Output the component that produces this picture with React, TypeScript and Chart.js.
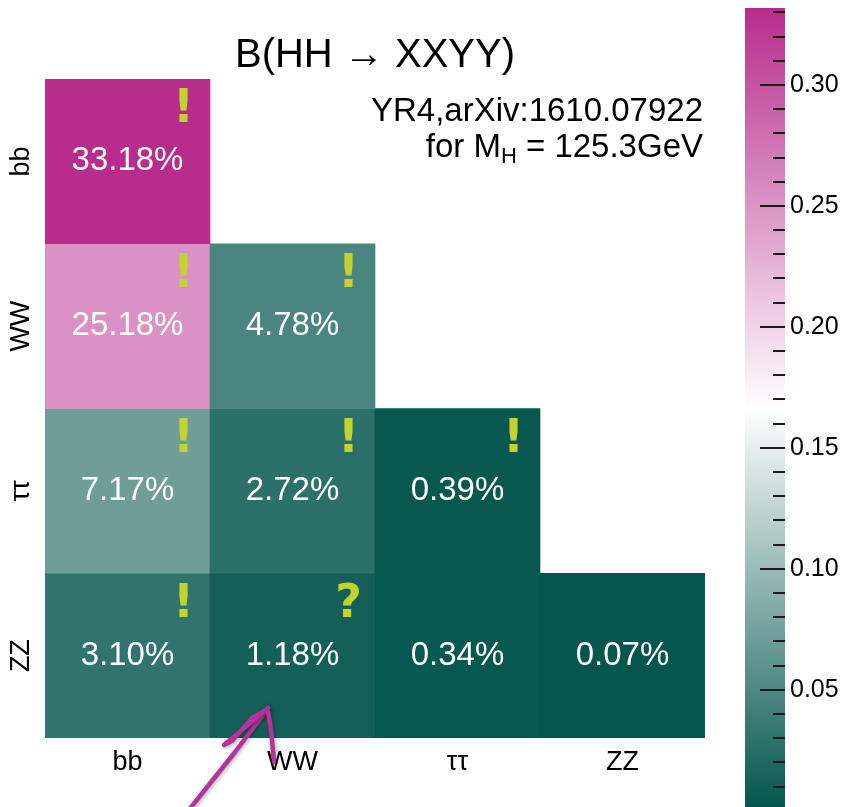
import React, { useEffect, useRef } from 'react';
import { Chart, registerables } from 'chart.js';

Chart.register(...registerables);

const FONT = '"Liberation Sans", Arial, Helvetica, sans-serif';
const MARK_FONT = '"DejaVu Sans", "Liberation Sans", Arial, sans-serif';

// Decay channels of each Higgs boson
const particles = ['bb', 'WW', 'ττ', 'ZZ'];

// Branching ratios (percent) of HH -> XXYY, one row per channel, top to bottom
const rowBB = [33.18];
const rowWW = [25.18, 4.78];
const rowTauTau = [7.17, 2.72, 0.39];
const rowZZ = [3.1, 1.18, 0.34, 0.07];

// Markers shown in the corner of each cell
const flagsBB = ['!'];
const flagsWW = ['!', '!'];
const flagsTauTau = ['!', '!', '!'];
const flagsZZ = ['!', '?', '', ''];

// Colour scale limits (fraction) and labelled colour-bar ticks
const colorMin = 0.0007;
const colorMax = 0.3318;
const colorbarTicks = [0.05, 0.1, 0.15, 0.2, 0.25, 0.3];

// Hand-drawn pointer, in (column, row) data units
const arrowShaft = [[0.348, -0.467], [0.652, -0.085], [0.852, 0.182]];
const arrowBarb = [[0.852, 0.182], [0.585, -0.042], [0.633, -0.018], [0.755, 0.121], [0.839, 0.17]];
const arrowTail = [[0.852, 0.158], [0.87, 0.049], [0.888, -0.146]];

const rows = [rowBB, rowWW, rowTauTau, rowZZ];
const flags = [flagsBB, flagsWW, flagsTauTau, flagsZZ];

const LOW = [3, 85, 77];
const MID = [255, 255, 255];
const HIGH = [183, 44, 140];

function colormap(v: number): string {
  const t = Math.min(1, Math.max(0, (v - colorMin) / (colorMax - colorMin)));
  let a = LOW, b = MID, f = t * 2;
  if (t > 0.5) { a = MID; b = HIGH; f = (t - 0.5) * 2; }
  const c = a.map((x, i) => Math.round(x + (b[i] - x) * f));
  return `rgb(${c[0]},${c[1]},${c[2]})`;
}

const cellPlugin = {
  id: 'cellText',
  afterDatasetsDraw(chart: any) {
    const { ctx, chartArea, scales } = chart;
    const xs = scales.x, ys = scales.y;
    ctx.save();
    rows.forEach((vals, i) => {
      vals.forEach((v, j) => {
        const cx = xs.getPixelForValue(j);
        const cy = ys.getPixelForValue(3.5 - i);
        ctx.fillStyle = '#ffffff';
        ctx.font = `33px ${FONT}`;
        ctx.textAlign = 'center';
        ctx.textBaseline = 'middle';
        ctx.fillText(`${v.toFixed(2)}%`, cx, cy);
        const f = flags[i][j];
        if (f) {
          ctx.fillStyle = '#c2d22e';
          ctx.font = `bold 46px ${MARK_FONT}`;
          ctx.fillText(f, xs.getPixelForValue(j + 0.34), ys.getPixelForValue(3.5 - i + 0.31));
        }
      });
    });

    // row labels, rotated
    ctx.fillStyle = '#000';
    ctx.font = `27px ${FONT}`;
    particles.forEach((p, i) => {
      ctx.save();
      ctx.translate(chartArea.left - 23, ys.getPixelForValue(3.5 - i));
      ctx.rotate(-Math.PI / 2);
      ctx.textAlign = 'center';
      ctx.textBaseline = 'middle';
      ctx.fillText(p, 0, 0);
      ctx.restore();
    });

    // title
    ctx.textAlign = 'center';
    ctx.textBaseline = 'middle';
    ctx.font = `40px ${FONT}`;
    ctx.fillText('B(HH \u2192 XXYY)', (chartArea.left + chartArea.right) / 2, chartArea.top - 23);

    // reference note
    const right = chartArea.right - 2;
    ctx.textAlign = 'right';
    ctx.textBaseline = 'alphabetic';
    ctx.font = `33px ${FONT}`;
    ctx.fillText('YR4,arXiv:1610.07922', right, chartArea.top + 42);
    const base2 = chartArea.top + 78;
    const tail = ' = 125.3GeV';
    const head = 'for M';
    const sub = 'H';
    ctx.font = `33px ${FONT}`;
    const wTail = ctx.measureText(tail).width;
    const wHead = ctx.measureText(head).width;
    ctx.font = `22px ${FONT}`;
    const wSub = ctx.measureText(sub).width;
    let x = right - wTail - wSub - wHead;
    ctx.textAlign = 'left';
    ctx.font = `33px ${FONT}`;
    ctx.fillText(head, x, base2);
    x += wHead;
    ctx.font = `22px ${FONT}`;
    ctx.fillText(sub, x, base2 + 6);
    x += wSub;
    ctx.font = `33px ${FONT}`;
    ctx.fillText(tail, x, base2);
    ctx.restore();
  },
  afterDraw(chart: any) {
    const { ctx, scales } = chart;
    const xs = scales.x, ys = scales.y;
    const stroke = (pts: number[][]) => {
      ctx.beginPath();
      pts.forEach(([a, b], k) => {
        const px = xs.getPixelForValue(a);
        const py = ys.getPixelForValue(b);
        if (k === 0) ctx.moveTo(px, py); else ctx.lineTo(px, py);
      });
      ctx.stroke();
    };
    ctx.save();
    ctx.strokeStyle = '#b5349c';
    ctx.lineWidth = 4.5;
    ctx.lineCap = 'round';
    ctx.lineJoin = 'round';
    ctx.shadowColor = 'rgba(0,0,0,0.35)';
    ctx.shadowBlur = 4;
    ctx.shadowOffsetX = 1;
    ctx.shadowOffsetY = 1;
    stroke(arrowShaft);
    stroke(arrowBarb);
    stroke(arrowTail);
    ctx.restore();
  },
};

const colorbarPlugin = {
  id: 'colorbarFill',
  beforeDatasetsDraw(chart: any) {
    const { ctx, chartArea, scales } = chart;
    const ys = scales.y;
    const y0 = ys.getPixelForValue(colorMin);
    const y1 = ys.getPixelForValue(colorMax);
    const g = ctx.createLinearGradient(0, y0, 0, y1);
    g.addColorStop(0, colormap(colorMin));
    g.addColorStop(0.5, colormap((colorMin + colorMax) / 2));
    g.addColorStop(1, colormap(colorMax));
    ctx.save();
    ctx.fillStyle = g;
    ctx.fillRect(chartArea.left, y1, chartArea.right - chartArea.left, y0 - y1);
    ctx.strokeStyle = '#1a1a1a';
    ctx.lineWidth = 2;
    const first = Math.ceil(colorMin * 100);
    const last = Math.floor(colorMax * 100);
    for (let k = first; k <= last; k++) {
      const py = Math.round(ys.getPixelForValue(k / 100));
      const len = k % 5 === 0 ? 25 : 12;
      ctx.beginPath();
      ctx.moveTo(chartArea.right - len, py);
      ctx.lineTo(chartArea.right, py);
      ctx.stroke();
    }
    ctx.restore();
  },
};

export default function App() {
  const mainRef = useRef<HTMLCanvasElement>(null);
  const barRef = useRef<HTMLCanvasElement>(null);

  useEffect(() => {
    const datasets = rows.map((vals, i) => ({
      data: vals.map(() => [3 - i, 4 - i]),
      backgroundColor: vals.map((v) => colormap(v / 100)),
      borderWidth: 0,
      barPercentage: 1,
      categoryPercentage: 1,
      grouped: false,
    }));

    const main = new Chart(mainRef.current as HTMLCanvasElement, {
      type: 'bar',
      data: { labels: particles, datasets: datasets as any },
      options: {
        responsive: false,
        animation: false,
        devicePixelRatio: 1,
        layout: { padding: { left: 45, top: 79, right: 40, bottom: 0 } },
        plugins: { legend: { display: false }, tooltip: { enabled: false }, title: { display: false } },
        scales: {
          x: {
            type: 'category',
            offset: true,
            grid: { display: false, drawTicks: false },
            border: { display: false },
            ticks: { color: '#000', font: { family: FONT, size: 27 }, padding: 8, maxRotation: 0, autoSkip: false },
            afterFit: (s: any) => { s.height = 69; },
          },
          y: { type: 'linear', min: 0, max: 4, display: false },
        },
      } as any,
      plugins: [cellPlugin],
    });

    const bar = new Chart(barRef.current as HTMLCanvasElement, {
      type: 'scatter',
      data: { datasets: [{ data: [] }] },
      options: {
        responsive: false,
        animation: false,
        devicePixelRatio: 1,
        layout: { padding: { top: 8, bottom: 11, left: 0, right: 0 } },
        plugins: { legend: { display: false }, tooltip: { enabled: false } },
        scales: {
          x: { display: false },
          y: {
            position: 'right',
            min: colorMin,
            max: colorMax,
            grid: { display: false, drawTicks: false },
            border: { display: false },
            afterBuildTicks: (s: any) => { s.ticks = colorbarTicks.map((v) => ({ value: v })); },
            ticks: {
              color: '#000',
              font: { family: FONT, size: 25 },
              padding: 5,
              autoSkip: false,
              callback: (v: any) => Number(v).toFixed(2),
            },
            afterFit: (s: any) => {
              s.width = 66;
              s.paddingTop = 0;
              s.paddingBottom = 0;
            },
          },
        },
      } as any,
      plugins: [colorbarPlugin],
    });

    return () => {
      main.destroy();
      bar.destroy();
    };
  }, []);

  return (
    <div style={{ position: 'absolute', left: 0, top: 0, width: 851, height: 807, overflow: 'hidden', background: '#fff' }}>
      <canvas ref={mainRef} width={745} height={807} style={{ position: 'absolute', left: 0, top: 0, width: 745, height: 807 }} />
      <canvas ref={barRef} width={106} height={820} style={{ position: 'absolute', left: 745, top: 0, width: 106, height: 820 }} />
    </div>
  );
}
